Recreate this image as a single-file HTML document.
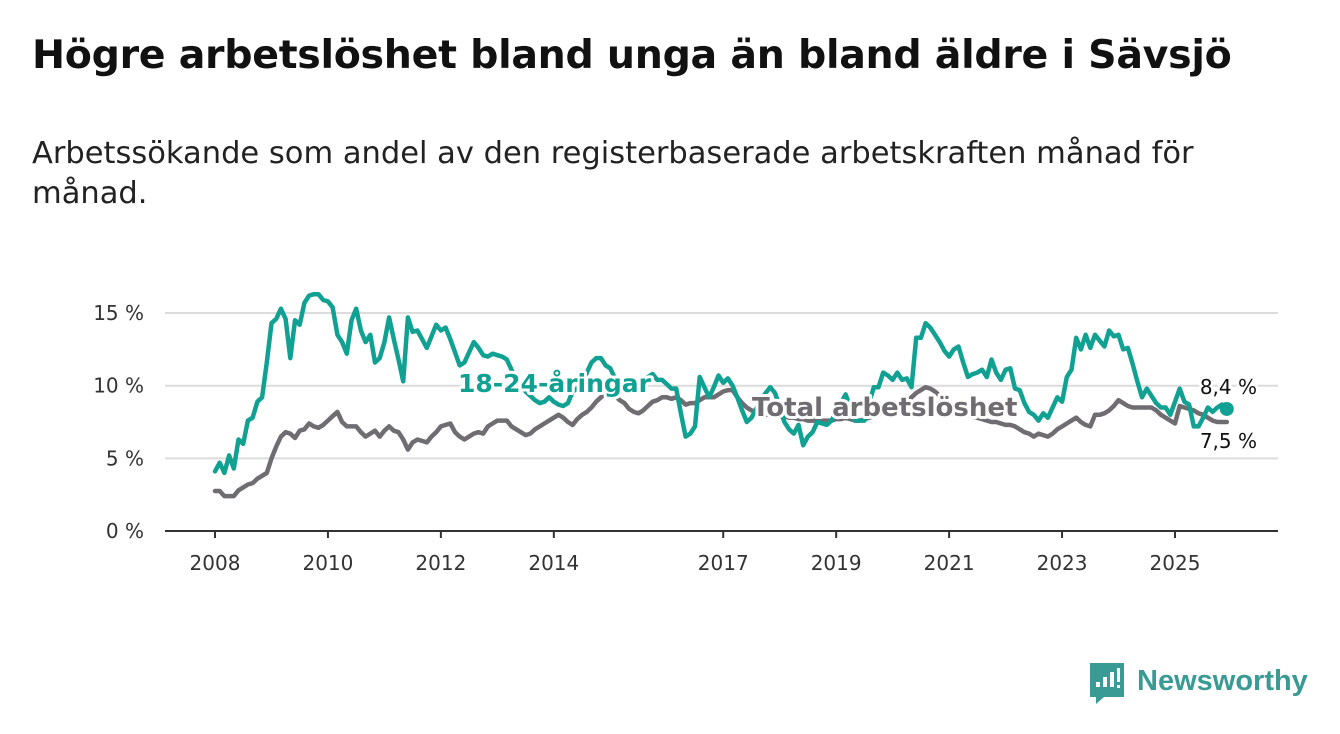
<!DOCTYPE html>
<html><head><meta charset="utf-8">
<style>
body{margin:0;width:1340px;height:734px;background:#fff;overflow:hidden;font-family:"DejaVu Sans",sans-serif;}
#title{position:absolute;left:32px;top:32px;font-size:39.5px;font-weight:bold;color:#111;margin:0;white-space:nowrap;letter-spacing:-0.3px;}
#sub{position:absolute;left:32px;top:134px;font-size:30.5px;color:#222;line-height:40px;width:1220px;margin:0;}
svg{position:absolute;left:0;top:0;}
</style></head><body>
<h1 id="title">Högre arbetslöshet bland unga än bland äldre i Sävsjö</h1>
<p id="sub">Arbetssökande som andel av den registerbaserade arbetskraften månad för månad.</p>
<svg id="chart" width="1340" height="734"></svg>
<script>
const youth=[4.1,4.7,4.0,5.2,4.3,6.3,6.0,7.6,7.8,8.9,
9.2,11.6,14.3,14.6,15.3,14.6,11.9,14.5,14.2,15.7,
16.2,16.3,16.3,15.9,15.8,15.4,13.5,13.0,12.2,14.5,
15.3,13.8,13.0,13.5,11.6,11.9,13.0,14.7,13.2,11.8,
10.3,14.7,13.7,13.8,13.2,12.6,13.4,14.2,13.8,14.0,
13.2,12.3,11.4,11.6,12.3,13.0,12.6,12.1,12.0,12.2,
12.1,12.0,11.8,11.1,10.4,10.0,9.6,9.3,9.0,8.8,
8.9,9.2,8.9,8.7,8.6,8.8,9.6,9.8,10.0,10.9,
11.6,11.9,11.9,11.4,11.2,10.5,10.2,9.8,9.7,9.8,
10.0,10.3,10.6,10.8,10.4,10.4,10.1,9.8,9.8,8.1,
6.5,6.7,7.2,10.6,9.9,9.2,9.9,10.7,10.2,10.5,
10.0,9.2,8.3,7.5,7.8,8.4,9.0,9.5,9.9,9.5,
8.5,7.5,7.0,6.7,7.3,5.9,6.5,6.8,7.5,7.4,
7.3,7.6,8.2,8.8,9.4,8.5,7.6,7.6,7.6,8.8,
9.9,9.9,10.9,10.7,10.4,10.9,10.4,10.5,9.9,13.3,
13.3,14.3,14.0,13.5,13.0,12.4,12.0,12.5,12.7,11.6,
10.6,10.8,10.9,11.1,10.6,11.8,10.9,10.4,11.1,11.2,
9.8,9.7,8.8,8.2,8.0,7.6,8.1,7.8,8.5,9.2,
8.9,10.6,11.1,13.3,12.5,13.5,12.6,13.5,13.1,12.7,
13.8,13.4,13.5,12.5,12.6,11.5,10.3,9.2,9.8,9.3,
8.8,8.5,8.5,8.0,8.9,9.8,8.9,8.7,7.2,7.2,
7.8,8.5,8.2,8.5,8.7,8.4];
const total=[2.75,2.75,2.4,2.4,2.4,2.8,3.0,3.2,3.3,3.6,
3.8,4.0,5.0,5.8,6.5,6.8,6.7,6.4,6.9,7.0,
7.4,7.2,7.1,7.3,7.6,7.9,8.2,7.5,7.2,7.2,
7.2,6.8,6.5,6.7,6.9,6.5,6.9,7.2,6.9,6.8,
6.3,5.6,6.1,6.3,6.2,6.1,6.5,6.8,7.2,7.3,
7.4,6.8,6.5,6.3,6.5,6.7,6.8,6.7,7.2,7.4,
7.6,7.6,7.6,7.2,7.0,6.8,6.6,6.7,7.0,7.2,
7.4,7.6,7.8,8.0,7.8,7.5,7.3,7.7,8.0,8.2,
8.5,8.9,9.2,9.5,9.7,9.3,9.0,8.8,8.4,8.2,
8.1,8.3,8.6,8.9,9.0,9.2,9.2,9.1,9.2,9.0,
8.7,8.8,8.8,9.0,9.2,9.2,9.2,9.4,9.6,9.7,
9.7,9.2,8.8,8.5,8.3,8.2,8.1,8.0,8.0,8.0,
7.9,7.9,7.8,7.8,7.7,7.7,7.6,7.6,7.6,7.6,
7.6,7.6,7.7,7.7,7.8,7.7,7.6,7.6,7.7,7.8,
7.9,8.0,8.2,8.3,8.4,8.5,8.7,8.9,9.2,9.5,
9.7,9.9,9.8,9.6,9.3,9.0,8.8,8.6,8.4,8.2,
8.0,7.9,7.8,7.7,7.6,7.5,7.5,7.4,7.3,7.3,
7.2,7.0,6.8,6.7,6.5,6.7,6.6,6.5,6.7,7.0,
7.2,7.4,7.6,7.8,7.5,7.3,7.2,8.0,8.0,8.1,
8.3,8.6,9.0,8.8,8.6,8.5,8.5,8.5,8.5,8.5,
8.3,8.0,7.8,7.6,7.4,8.6,8.5,8.4,8.3,8.1,
8.0,7.8,7.6,7.5,7.5,7.5];
const yTicks=[0,5,10,15];
const yTickLabels=["0 %","5 %","10 %","15 %"];
const xTicks=[2008,2010,2012,2014,2017,2019,2021,2023,2025];
const startYear=2008;

const NS="http://www.w3.org/2000/svg";
const svg=document.getElementById('chart');
const X=m=>215+m*(56.47/12);
const Y=v=>531-v*14.53;
const FF='DejaVu Sans, sans-serif';
function el(t,a,p){const e=document.createElementNS(NS,t);for(const k in a)e.setAttribute(k,a[k]);(p||svg).appendChild(e);return e;}
yTicks.forEach((v,i)=>{
  if(v>0){const g=el('line',{x1:165,x2:1278,y1:Y(v),y2:Y(v),stroke:'#dcdcdc','stroke-width':2});
  
  }
  const t=el('text',{x:144,y:Y(v)+7,'text-anchor':'end','font-size':20,fill:'#333','font-family':FF});
  t.textContent=yTickLabels[i];
  
  
});
const ax=el('line',{x1:165,x2:1278,y1:531,y2:531,stroke:'#333','stroke-width':2});


xTicks.forEach(yr=>{
  const x=X((yr-startYear)*12);
  const tk=el('line',{x1:x,x2:x,y1:531,y2:538,stroke:'#333','stroke-width':2});
  
  
  const t=el('text',{x:x,y:570,'text-anchor':'middle','font-size':20,fill:'#333','font-family':FF});
  t.textContent=yr;
  
  
});
function line(arr,color,name){
  const d=arr.map((v,i)=>(i?'L':'M')+X(i).toFixed(1)+','+Y(v).toFixed(1)).join('');
  const p=el('path',{d:d,fill:'none',stroke:color,'stroke-width':4.5,'stroke-linejoin':'round','stroke-linecap':'round'});
  
  
}
line(total,'#6f6c72','total-line');
line(youth,'#10a192','youth-line');
const dot=el('circle',{cx:X(youth.length-1),cy:Y(youth[youth.length-1]),r:7,fill:'#10a192'});


function label(txt,x,y,color,size,weight,name,anchor){
  const t=el('text',{x:x,y:y,fill:color,'font-size':size,'font-weight':weight,stroke:'#fff','stroke-width':6,'paint-order':'stroke','stroke-linejoin':'round','font-family':FF,'text-anchor':anchor||'start'});
  t.textContent=txt;
  
  
}
label('18-24-åringar',458,392,'#10a192',25,'bold','youth-series-label');
label('Total arbetslöshet',752,416,'#6f6c72',26,'bold','total-series-label');
label('8,4 %',1257,394,'#111',20,'normal','youth-end-value','end');
label('7,5 %',1257,448,'#111',20,'normal','total-end-value','end');
const lg=el('g',{});


el('path',{d:'M1090,663 h34 v34 h-20 l-8,7 v-7 h-6 z',fill:'#3a9a94'},lg);
[[1096,682,5],[1103,677,10],[1110,672,15]].forEach(b=>el('rect',{x:b[0],y:b[1],width:4,height:b[2],fill:'#fff'},lg));
el('rect',{x:1117,y:668,width:3,height:14,fill:'#fff'},lg);
el('rect',{x:1117,y:685,width:3,height:3,fill:'#fff'},lg);
const lt=el('text',{x:1137,y:690,'font-size':29,'font-weight':'bold',fill:'#3a9a94','font-family':'Liberation Sans, sans-serif'},lg);
lt.textContent='Newsworthy';
</script>
</body></html>
